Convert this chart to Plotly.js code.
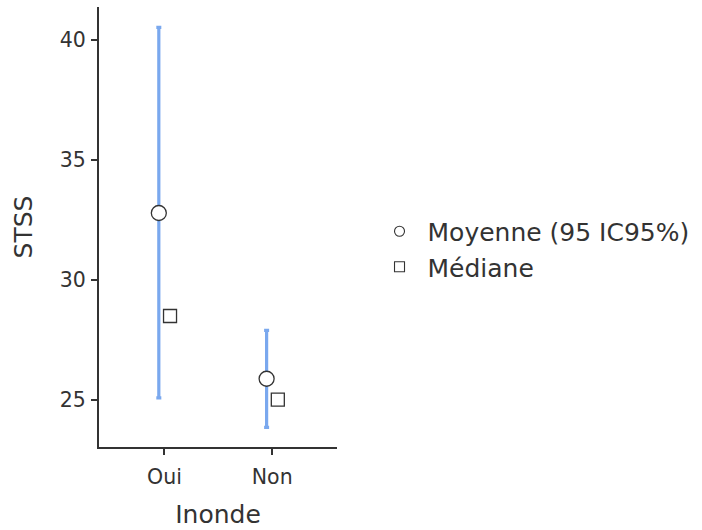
<!DOCTYPE html>
<html>
<head>
<meta charset="utf-8">
<script src="https://cdn.plot.ly/plotly-3.0.1.min.js"></script>
<style>html,body{margin:0;padding:0;background:#fff;}#chart{width:702px;height:530px;}</style>
</head>
<body>
<div id="chart"></div>
<script>
const categories = ["Oui", "Non"];
const meanValues = [32.79, 25.87];
const ciUpper = [40.54, 27.89];
const ciLower = [25.07, 23.84];
const medianValues = [28.49, 25.0];
const yTicks = [25, 30, 35, 40];
const legendLabels = ["Moyenne (95 IC95%)", "Médiane"];

const catIndex = categories.map((c, i) => i);
const dodge = 0.052;
const FONT = "DejaVu Sans, Liberation Sans, Arial, sans-serif";

const meanTrace = {
  type: "scatter", mode: "markers",
  x: catIndex.map(i => i - dodge), y: meanValues,
  error_y: {
    type: "data", symmetric: false,
    array: meanValues.map((m, i) => ciUpper[i] - m),
    arrayminus: meanValues.map((m, i) => m - ciLower[i]),
    color: "#7aa8ee", thickness: 3.2, width: 2.5
  },
  marker: {symbol: "circle", size: 15, color: "#ffffff", line: {color: "#333333", width: 1.3}},
  showlegend: false, hoverinfo: "skip"
};
const medianTrace = {
  type: "scatter", mode: "markers",
  x: catIndex.map(i => i + dodge), y: medianValues,
  marker: {symbol: "square", size: 13, color: "#ffffff", line: {color: "#333333", width: 1.3}},
  showlegend: false, hoverinfo: "skip"
};
const legendMean = {
  type: "scatter", mode: "markers", x: [null], y: [null], name: legendLabels[0],
  marker: {symbol: "circle", size: 10, color: "#ffffff", line: {color: "#333333", width: 1.1}}
};
const legendMedian = {
  type: "scatter", mode: "markers", x: [null], y: [null], name: legendLabels[1],
  marker: {symbol: "square", size: 10, color: "#ffffff", line: {color: "#333333", width: 1.1}}
};

const layout = {
  width: 702, height: 530,
  margin: {l: 99, r: 363, t: 7, b: 83},
  paper_bgcolor: "#ffffff", plot_bgcolor: "#ffffff",
  font: {family: FONT, color: "#333333"},
  xaxis: {
    range: [-0.607, 1.601],
    tickvals: catIndex, ticktext: categories,
    showgrid: false, zeroline: false,
    showline: true, linecolor: "#333333", linewidth: 2,
    ticks: "outside", ticklen: 6, tickwidth: 2, tickcolor: "#333333",
    ticklabelstandoff: 4,
    tickfont: {family: FONT, size: 20.5, color: "#333333"},
    title: {text: "Inonde", font: {family: FONT, size: 25, color: "#333333"}, standoff: 18}
  },
  yaxis: {
    range: [23.02, 41.39],
    tickvals: yTicks,
    showgrid: false, zeroline: false,
    showline: true, linecolor: "#333333", linewidth: 2,
    ticks: "outside", ticklen: 6, tickwidth: 2, tickcolor: "#333333",
    ticklabelstandoff: 1,
    tickfont: {family: FONT, size: 20.5, color: "#333333"},
    title: {text: "STSS", font: {family: FONT, size: 25, color: "#333333"}, standoff: 20}
  },
  showlegend: true,
  legend: {
    x: 1.145, xanchor: "left", y: 0.45, yanchor: "middle",
    font: {family: FONT, size: 25, color: "#333333"}, bgcolor: "rgba(0,0,0,0)",
    itemsizing: "trace", itemwidth: 46
  }
};

Plotly.newPlot("chart", [meanTrace, medianTrace, legendMean, legendMedian], layout, {displayModeBar: false, staticPlot: true});
</script>
</body>
</html>
